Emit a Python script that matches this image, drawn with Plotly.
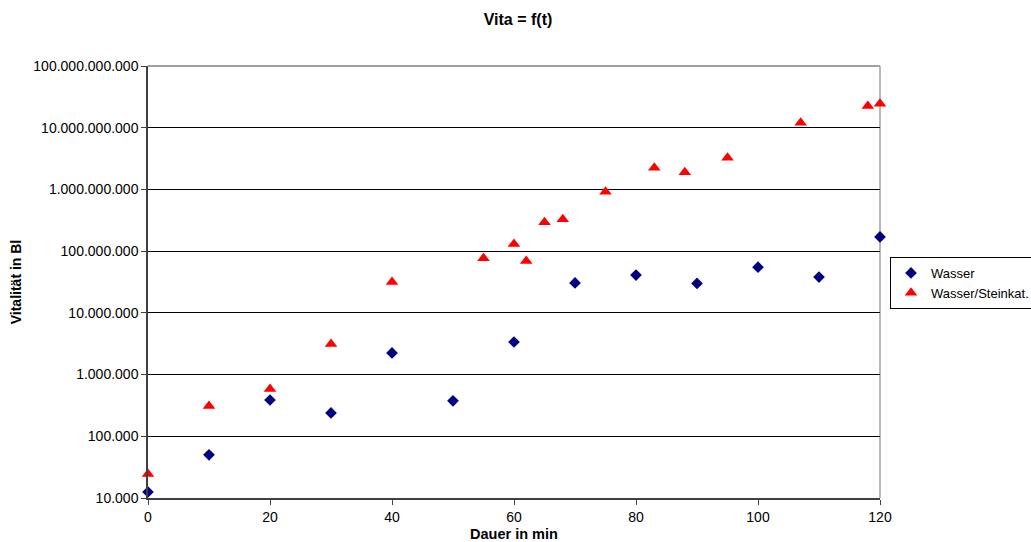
import plotly.graph_objects as go

# Data
t_wasser = [0, 10, 20, 30, 40, 50, 60, 70, 80, 90, 100, 110, 120]
v_wasser = [12500, 50000, 387000, 239000, 2240000, 375000, 3370000,
            30600000, 41000000, 30000000, 55000000, 38000000, 170000000]

t_stein = [0, 10, 20, 30, 40, 55, 60, 62, 65, 68, 75, 83, 88, 95, 107, 118, 120]
v_stein = [24500, 310000, 585000, 3130000, 31600000, 77000000, 131000000,
           69000000, 295000000, 330000000, 913000000, 2240000000, 1900000000,
           3250000000, 12000000000, 22400000000, 24500000000]

y_tickvals = [1e4, 1e5, 1e6, 1e7, 1e8, 1e9, 1e10, 1e11]
y_ticktext = ["10.000", "100.000", "1.000.000", "10.000.000", "100.000.000",
              "1.000.000.000", "10.000.000.000", "100.000.000.000"]
x_tickvals = [0, 20, 40, 60, 80, 100, 120]

font = "Liberation Sans, Arial, sans-serif"

fig = go.Figure()
fig.add_trace(go.Scatter(
    x=t_wasser, y=v_wasser, mode="markers", name="Wasser", cliponaxis=False,
    marker=dict(symbol="diamond", color="#000080", size=9,
                line=dict(width=0))))
fig.add_trace(go.Scatter(
    x=t_stein, y=v_stein, mode="markers", name="Wasser/Steinkat.", cliponaxis=False,
    marker=dict(symbol="triangle-up", color="#FF0000", size=11,
                line=dict(width=0))))

fig.update_layout(
    width=1031, height=542,
    paper_bgcolor="white", plot_bgcolor="white",
    margin=dict(l=148, r=151, t=66, b=44, autoexpand=False),
    font=dict(family=font, size=13, color="black"),
    title=dict(text="<b>Vita = f(t)</b>", x=518 / 1031, xanchor="center",
               y=1 - 19 / 542, yanchor="middle", font=dict(size=16, family=font)),
    showlegend=True,
    legend=dict(xref="container", yref="container", x=890 / 1031, y=1 - 257 / 542,
                xanchor="left", yanchor="top",
                bordercolor="black", borderwidth=1, bgcolor="white",
                font=dict(size=13, family=font), itemwidth=30,
                tracegroupgap=0),
    xaxis=dict(range=[0, 120], tickvals=x_tickvals, ticks="outside", ticklen=5,
               tickcolor="#404040", showline=True, linecolor="#404040", linewidth=1.5,
               mirror=False, showgrid=False, zeroline=False, automargin=False,
               title=dict(text="<b>Dauer in min</b>", font=dict(size=14.5, family=font),
                          standoff=8),
               tickfont=dict(size=14, family=font)),
    yaxis=dict(type="log", range=[4, 11], tickvals=y_tickvals, ticktext=y_ticktext,
               ticks="outside", ticklen=5, tickcolor="#404040",
               showline=True, linecolor="#404040", linewidth=1.5,
               showgrid=True, gridcolor="black", gridwidth=1, zeroline=False,
               automargin=False,
               title=dict(text="<b>Vitalität in Bl</b>", font=dict(size=14, family=font),
                          standoff=8),
               tickfont=dict(size=14, family=font)),
)

# plot-area border on top and right (gray)
fig.add_shape(type="line", xref="paper", yref="paper", x0=0, x1=1, y0=1, y1=1,
              line=dict(color="#808080", width=1.5), layer="below")
fig.add_shape(type="line", xref="paper", yref="paper", x0=1, x1=1, y0=0, y1=1,
              line=dict(color="#a0a0a0", width=1.5), layer="below")

fig.write_html("out.html", config={"displayModeBar": False},
               post_script="document.body.style.margin='0';")
